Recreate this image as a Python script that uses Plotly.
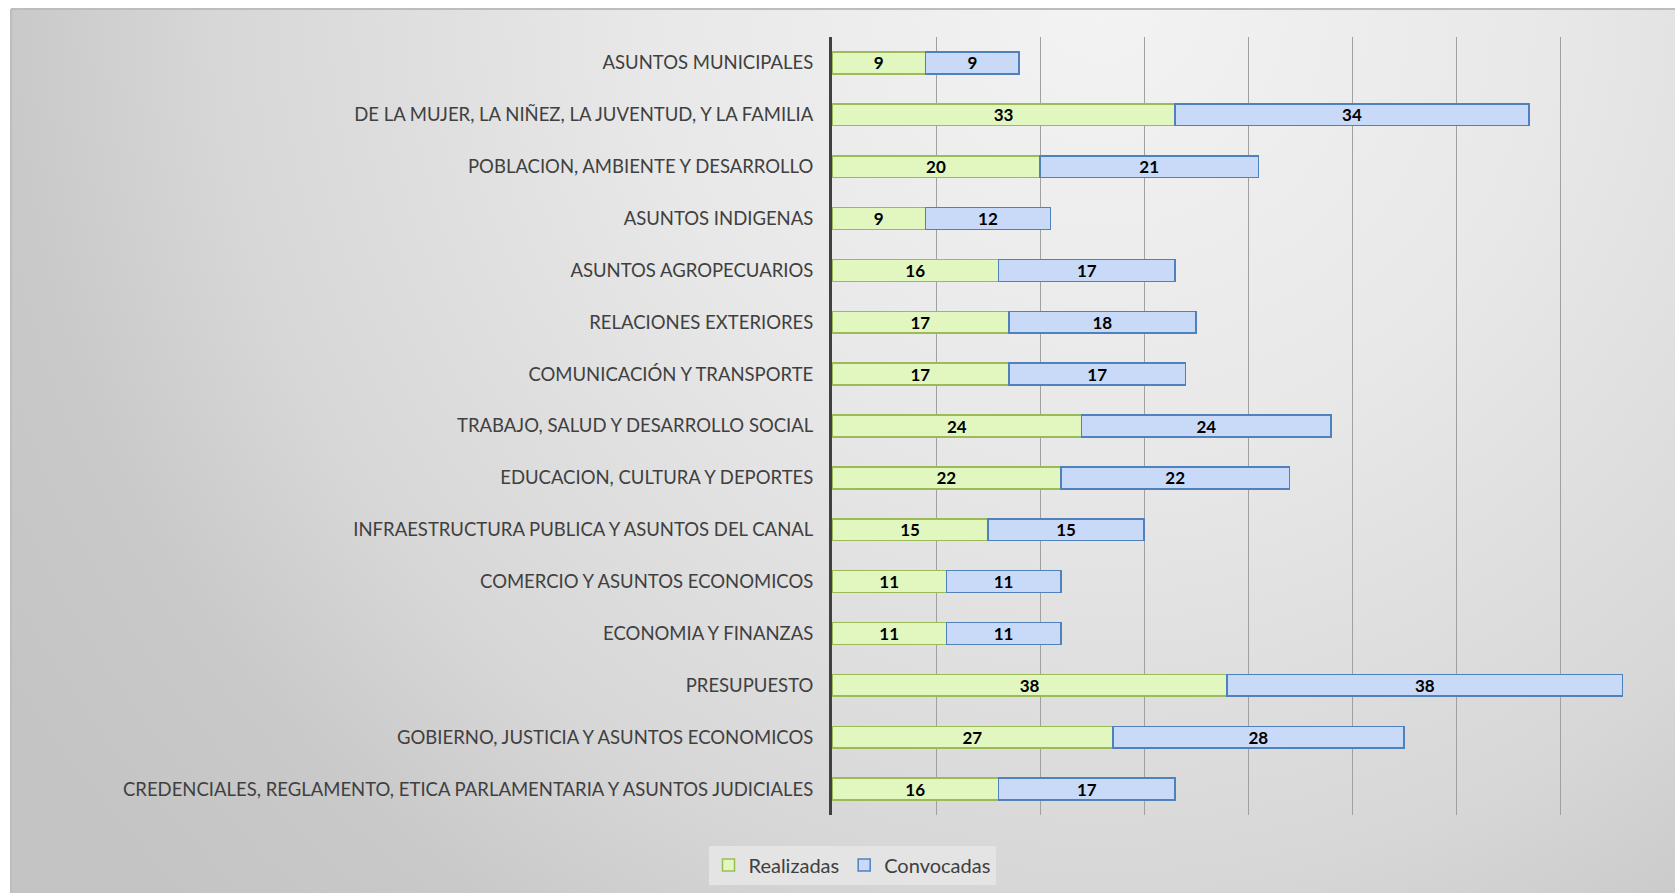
import plotly.graph_objects as go

# Data (top to bottom as shown in the chart)
comisiones = [
    "ASUNTOS MUNICIPALES",
    "DE LA MUJER, LA NIÑEZ, LA JUVENTUD, Y LA FAMILIA",
    "POBLACION, AMBIENTE Y DESARROLLO",
    "ASUNTOS INDIGENAS",
    "ASUNTOS AGROPECUARIOS",
    "RELACIONES EXTERIORES",
    "COMUNICACIÓN Y TRANSPORTE",
    "TRABAJO, SALUD Y DESARROLLO SOCIAL",
    "EDUCACION, CULTURA Y DEPORTES",
    "INFRAESTRUCTURA PUBLICA Y ASUNTOS DEL CANAL",
    "COMERCIO Y ASUNTOS ECONOMICOS",
    "ECONOMIA Y FINANZAS",
    "PRESUPUESTO",
    "GOBIERNO, JUSTICIA Y ASUNTOS ECONOMICOS",
    "CREDENCIALES, REGLAMENTO, ETICA PARLAMENTARIA Y ASUNTOS JUDICIALES",
]
realizadas = [9, 33, 20, 9, 16, 17, 17, 24, 22, 15, 11, 11, 38, 27, 16]
convocadas = [9, 34, 21, 12, 17, 18, 17, 24, 22, 15, 11, 11, 38, 28, 17]

W, H = 1675, 893
ML, MT = 11, 9
PW, PH = W - ML, H - MT

FONT = "Lato, 'Open Sans', sans-serif"
TEXT = "#404040"


# pixel -> paper helpers (paper spans the area inside the margins)
def px_x(p):
    return (p - ML) / PW


def px_y(p):
    return 1 - (p - MT) / PH


fig = go.Figure()

# Background radial gradient (light spot near the top right)
cx, cy, R = px_x(1100), px_y(0), 1300
rx, ry = R / PW, R / PH
fig.add_trace(
    go.Scatter(
        x=[cx - rx, cx + rx, cx + rx, cx - rx, cx - rx],
        y=[cy - ry, cy - ry, cy + ry, cy + ry, cy - ry],
        mode="lines",
        line=dict(width=0),
        fill="toself",
        fillgradient=dict(
            type="radial",
            colorscale=[
                [0.0, "#f3f3f3"],
                [0.35, "#e8e8e8"],
                [0.68, "#d7d7d7"],
                [0.84, "#c9c9c9"],
                [1.0, "#c4c4c4"],
            ],
        ),
        hoverinfo="skip",
        showlegend=False,
        xaxis="x",
        yaxis="y",
    )
)

bar_text = dict(family=FONT, size=17, color="#000000", weight="bold")

fig.add_trace(
    go.Bar(
        y=comisiones,
        x=realizadas,
        name="Realizadas",
        orientation="h",
        marker=dict(color="#e2f7c0", line=dict(color="#9bbb59", width=1.5)),
        text=realizadas,
        textposition="inside",
        insidetextanchor="middle",
        textangle=0,
        constraintext="none",
        textfont=bar_text,
        xaxis="x2",
        yaxis="y2",
    )
)
fig.add_trace(
    go.Bar(
        y=comisiones,
        x=convocadas,
        name="Convocadas",
        orientation="h",
        marker=dict(color="#c9daf8", line=dict(color="#4f81bd", width=1.5)),
        text=convocadas,
        textposition="inside",
        insidetextanchor="middle",
        textangle=0,
        constraintext="none",
        textfont=bar_text,
        xaxis="x2",
        yaxis="y2",
    )
)

fig.update_layout(
    width=W,
    height=H,
    margin=dict(l=ML, r=0, t=MT, b=0),
    paper_bgcolor="#ffffff",
    plot_bgcolor="rgba(0,0,0,0)",
    barmode="stack",
    bargap=0.58,
    font=dict(family=FONT, size=18.5, color=TEXT),
    showlegend=True,
    xaxis=dict(domain=[0, 1], range=[0, 1], visible=False, fixedrange=True),
    yaxis=dict(domain=[0, 1], range=[0, 1], visible=False, fixedrange=True),
    xaxis2=dict(
        domain=[px_x(832), px_x(1664)],
        anchor="y2",
        range=[0, 80],
        dtick=10,
        showgrid=True,
        gridcolor="#a0a0a0",
        gridwidth=1,
        zeroline=False,
        showticklabels=False,
        showline=False,
    ),
    yaxis2=dict(
        domain=[px_y(815), px_y(37)],
        anchor="x2",
        type="category",
        range=[14.5, -0.5],
        showline=True,
        linecolor="#404040",
        linewidth=3,
        ticks="outside",
        ticklen=0,
        ticklabelstandoff=12,
        tickfont=dict(family=FONT, size=18.5, color=TEXT),
        showgrid=False,
    ),
    legend=dict(
        orientation="h",
        x=px_x(852),
        xanchor="center",
        y=px_y(865),
        yanchor="middle",
        bgcolor="#e4e4e4",
        font=dict(family=FONT, size=20, color=TEXT),
        itemwidth=30,
        traceorder="normal",
    ),
    shapes=[
        dict(type="line", xref="paper", yref="paper", x0=0, x1=1, y0=1, y1=1,
             line=dict(color="#bdbdbd", width=2)),
        dict(type="line", xref="paper", yref="paper", x0=0, x1=0, y0=0, y1=1,
             line=dict(color="#bdbdbd", width=2)),
    ],
)

# drop the browser's default page margin so the figure fills the window
fig.write_html(
    "out.html",
    config={"displayModeBar": False},
    post_script="document.body.style.margin='0';document.body.style.overflow='hidden';",
)
